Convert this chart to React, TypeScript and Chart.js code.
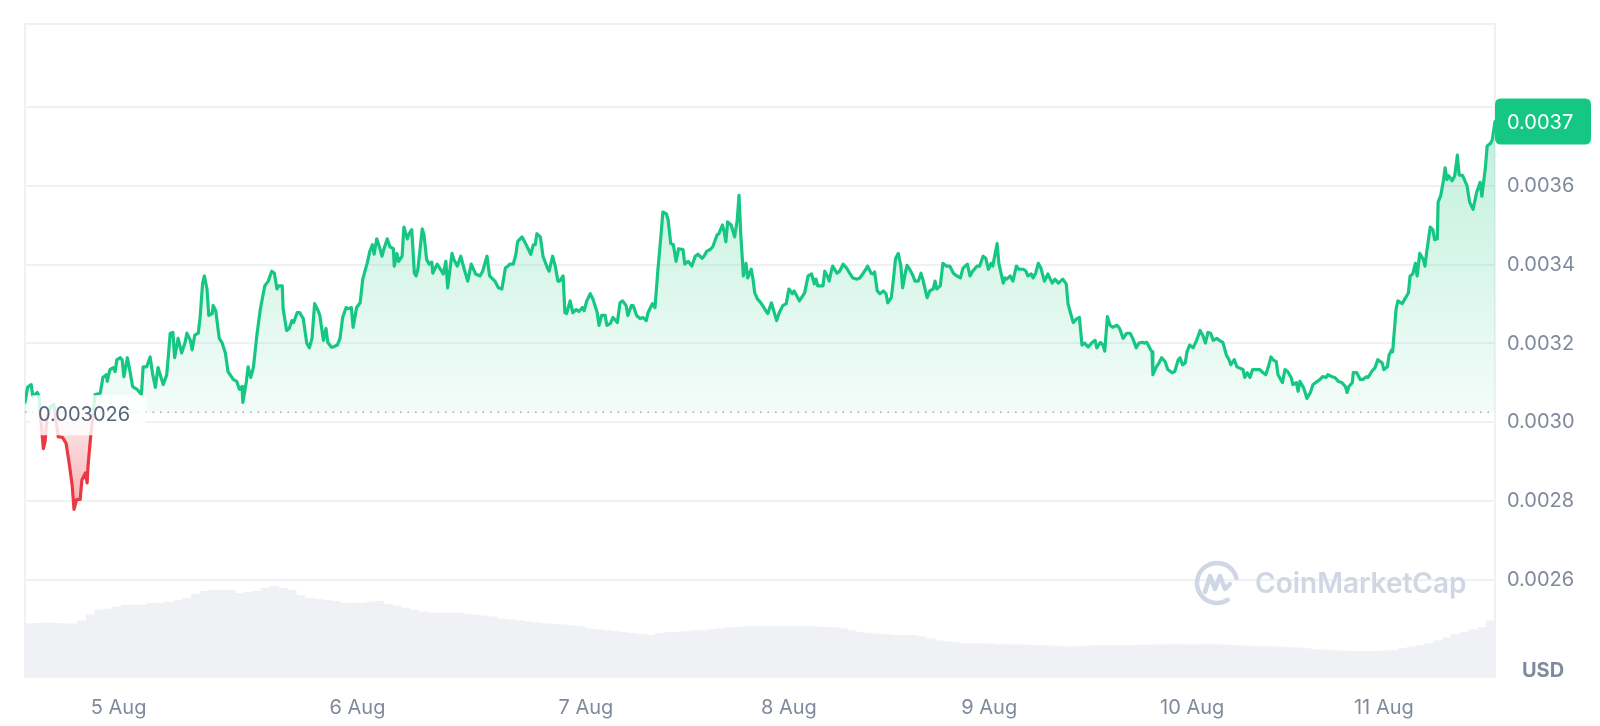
import { useEffect, useRef } from "react";
import { Chart, registerables } from "chart.js";

Chart.register(...registerables);

// ---- data ----
// position (hours since the first sample) of each day label on the time axis
const dayTickHours = [10.7, 38.0, 64.1, 87.3, 110.2, 133.4, 155.3];
const dayTickLabels = ["5 Aug", "6 Aug", "7 Aug", "8 Aug", "9 Aug", "10 Aug", "11 Aug"];
const yTickValues = [0.0026, 0.0028, 0.003, 0.0032, 0.0034, 0.0036, 0.0038];
const yTickLabels = ["0.0026", "0.0028", "0.0030", "0.0032", "0.0034", "0.0036", ""];
const BASE_PRICE = 0.003026;
const Y_MIN = 0.002353;
const Y_MAX = 0.004009;
const X_MAX_HOURS = 168;
const VOLUME_AXIS_MAX = 200;
const CURRENCY = "USD";
const WATERMARK = "CoinMarketCap";

// [hours since start, price in micro-USD]
const priceMicroUsd: [number, number][] = [
  [0, 3051], [0.3, 3089], [0.7, 3096], [0.9, 3066], [1.4, 3076], [1.6, 3066], [1.8, 3009], [2.1, 2934], [2.3, 2952], [2.5, 3009],
  [2.9, 3041], [3.3, 3046], [3.8, 2964], [4.3, 2962], [4.7, 2947], [5.1, 2889], [5.4, 2839], [5.6, 2780], [5.9, 2805], [6.3, 2805],
  [6.5, 2854], [6.9, 2872], [7.1, 2847], [7.2, 2889], [7.5, 2964], [7.8, 3021], [8.0, 3071], [8.6, 3074], [8.9, 3114], [9.3, 3121],
  [9.4, 3104], [9.7, 3134], [10.1, 3139], [10.3, 3129], [10.5, 3159], [10.9, 3164], [11.1, 3159], [11.3, 3116], [11.7, 3164], [12.0, 3129],
  [12.3, 3091], [12.8, 3084], [13.3, 3071], [13.5, 3141], [13.9, 3141], [14.3, 3166], [14.6, 3121], [14.9, 3089], [15.2, 3139], [15.8, 3096],
  [16.2, 3121], [16.6, 3226], [16.9, 3228], [17.1, 3164], [17.5, 3213], [17.9, 3176], [18.3, 3203], [18.5, 3226], [18.9, 3208], [19.1, 3184],
  [19.4, 3221], [19.8, 3226], [20.0, 3263], [20.3, 3353], [20.5, 3371], [20.8, 3338], [21.0, 3271], [21.4, 3276], [21.5, 3296], [21.8, 3283],
  [22.2, 3213], [22.5, 3203], [22.9, 3176], [23.2, 3129], [23.8, 3109], [24.2, 3104], [24.5, 3084], [24.8, 3091], [24.9, 3051], [25.3, 3104],
  [25.5, 3141], [25.8, 3114], [26.1, 3139], [26.5, 3221], [26.9, 3288], [27.4, 3346], [27.8, 3358], [28.2, 3383], [28.5, 3378], [28.8, 3338],
  [29.0, 3346], [29.4, 3346], [29.5, 3288], [29.9, 3233], [30.2, 3238], [30.5, 3258], [30.7, 3253], [31.1, 3278], [31.4, 3278], [31.8, 3263],
  [32.2, 3201], [32.5, 3189], [32.8, 3213], [33.1, 3301], [33.5, 3283], [33.7, 3271], [34.1, 3208], [34.4, 3238], [34.6, 3203], [35.0, 3191],
  [35.2, 3191], [35.7, 3196], [36.0, 3213], [36.3, 3266], [36.7, 3291], [36.9, 3288], [37.3, 3291], [37.5, 3241], [37.9, 3291], [38.3, 3303],
  [38.6, 3363], [39.1, 3403], [39.4, 3433], [39.7, 3450], [39.9, 3426], [40.2, 3465], [40.5, 3445], [40.8, 3421], [41.0, 3438], [41.4, 3465],
  [41.7, 3445], [42.1, 3440], [42.2, 3396], [42.5, 3428], [42.7, 3408], [43.1, 3421], [43.3, 3495], [43.7, 3465], [43.9, 3478], [44.2, 3488],
  [44.5, 3378], [44.7, 3371], [44.9, 3388], [45.4, 3490], [45.6, 3475], [45.9, 3413], [46.2, 3401], [46.5, 3406], [46.6, 3378], [47.1, 3401],
  [47.4, 3391], [47.8, 3376], [48.1, 3408], [48.3, 3341], [48.8, 3428], [49.0, 3413], [49.4, 3396], [49.8, 3421], [50.2, 3388], [50.6, 3358],
  [51.0, 3401], [51.2, 3391], [51.5, 3376], [52.0, 3371], [52.3, 3383], [52.8, 3421], [53.1, 3371], [53.7, 3358], [54.1, 3341], [54.5, 3338],
  [54.9, 3391], [55.2, 3396], [55.4, 3401], [55.8, 3401], [56.1, 3426], [56.3, 3458], [56.8, 3470], [57.1, 3458], [57.5, 3440], [57.8, 3426],
  [58.1, 3450], [58.3, 3450], [58.5, 3478], [58.9, 3470], [59.2, 3421], [59.7, 3391], [59.9, 3383], [60.3, 3421], [60.6, 3396], [60.9, 3358],
  [61.1, 3358], [61.5, 3371], [61.7, 3278], [61.9, 3276], [62.3, 3308], [62.6, 3278], [63.0, 3286], [63.3, 3281], [63.7, 3291], [63.9, 3283],
  [64.2, 3308], [64.6, 3326], [64.9, 3313], [65.4, 3278], [65.6, 3246], [65.9, 3271], [66.3, 3271], [66.5, 3246], [66.9, 3251], [67.2, 3266],
  [67.7, 3253], [68.0, 3303], [68.3, 3308], [68.7, 3296], [68.9, 3271], [69.3, 3296], [69.5, 3296], [69.9, 3271], [70.3, 3263], [70.6, 3266],
  [71.0, 3258], [71.2, 3278], [71.7, 3301], [72.0, 3291], [72.3, 3378], [72.7, 3478], [72.9, 3533], [73.3, 3528], [73.5, 3513], [73.8, 3453],
  [74.1, 3450], [74.4, 3408], [74.7, 3440], [75.2, 3438], [75.4, 3401], [75.8, 3408], [76.2, 3396], [76.6, 3421], [76.9, 3426], [77.4, 3416],
  [77.6, 3421], [77.9, 3433], [78.3, 3438], [78.6, 3445], [79.1, 3475], [79.3, 3478], [79.7, 3500], [79.9, 3483], [80.1, 3458], [80.3, 3508],
  [80.7, 3500], [81.1, 3470], [81.4, 3513], [81.6, 3575], [81.8, 3478], [82.1, 3371], [82.4, 3403], [82.6, 3366], [83.0, 3388], [83.2, 3363],
  [83.4, 3328], [83.7, 3313], [84.1, 3303], [84.3, 3296], [84.8, 3278], [84.9, 3276], [85.3, 3303], [85.5, 3288], [85.9, 3258], [86.2, 3278],
  [86.6, 3296], [87.0, 3301], [87.3, 3338], [87.7, 3326], [87.9, 3333], [88.2, 3321], [88.5, 3308], [88.9, 3321], [89.1, 3328], [89.5, 3371],
  [89.9, 3376], [90.2, 3351], [90.4, 3363], [90.6, 3346], [91.2, 3346], [91.4, 3383], [91.7, 3371], [91.9, 3358], [92.2, 3388], [92.3, 3396],
  [92.8, 3378], [93.1, 3383], [93.5, 3401], [93.9, 3391], [94.3, 3376], [94.6, 3366], [95.1, 3363], [95.4, 3366], [95.8, 3378], [96.1, 3388],
  [96.3, 3396], [96.7, 3378], [96.9, 3376], [97.1, 3381], [97.4, 3333], [97.7, 3326], [98.1, 3333], [98.4, 3326], [98.6, 3303], [99.0, 3316],
  [99.2, 3353], [99.5, 3416], [99.8, 3428], [100.1, 3396], [100.3, 3341], [100.6, 3378], [100.8, 3398], [101.1, 3388], [101.5, 3371], [101.7, 3358],
  [102.1, 3358], [102.4, 3378], [102.6, 3363], [103.1, 3316], [103.4, 3333], [103.8, 3338], [104.0, 3358], [104.2, 3338], [104.6, 3346], [104.9, 3403],
  [105.3, 3396], [105.7, 3396], [106.1, 3378], [106.5, 3371], [106.9, 3366], [107.2, 3391], [107.7, 3401], [108.0, 3371], [108.3, 3383], [108.8, 3396],
  [109.1, 3396], [109.5, 3421], [109.8, 3416], [110.1, 3388], [110.4, 3403], [110.6, 3396], [111.1, 3453], [111.3, 3403], [111.8, 3353], [112.0, 3366],
  [112.2, 3363], [112.6, 3371], [112.9, 3358], [113.3, 3396], [113.6, 3388], [114.1, 3388], [114.4, 3383], [114.6, 3371], [115.0, 3376], [115.2, 3366],
  [115.5, 3378], [115.8, 3403], [116.1, 3391], [116.5, 3358], [116.7, 3366], [116.9, 3376], [117.4, 3353], [117.7, 3363], [118.1, 3353], [118.6, 3363],
  [119.0, 3351], [119.2, 3301], [119.5, 3276], [119.8, 3253], [120.2, 3263], [120.5, 3266], [120.8, 3196], [121.1, 3201], [121.5, 3191], [121.9, 3201],
  [122.3, 3208], [122.5, 3189], [122.9, 3203], [123.2, 3196], [123.4, 3181], [123.7, 3268], [124.0, 3246], [124.3, 3241], [124.8, 3246], [125.1, 3238],
  [125.5, 3213], [125.9, 3226], [126.3, 3226], [126.6, 3213], [127.0, 3189], [127.3, 3201], [127.7, 3203], [127.9, 3201], [128.2, 3203], [128.6, 3186],
  [128.8, 3179], [128.9, 3121], [129.3, 3141], [129.6, 3151], [129.9, 3164], [130.3, 3154], [130.6, 3134], [131.1, 3126], [131.4, 3129], [131.8, 3159],
  [132.0, 3164], [132.3, 3146], [132.6, 3151], [132.8, 3179], [133.1, 3196], [133.5, 3189], [133.9, 3208], [134.3, 3233], [134.6, 3221], [134.9, 3201],
  [135.2, 3228], [135.5, 3226], [135.8, 3208], [136.2, 3213], [136.5, 3208], [136.9, 3203], [137.3, 3171], [137.6, 3159], [137.8, 3146], [138.2, 3159],
  [138.5, 3141], [138.7, 3139], [139.2, 3134], [139.4, 3114], [139.7, 3126], [140.0, 3114], [140.3, 3134], [140.8, 3134], [141.1, 3134], [141.5, 3126],
  [141.8, 3121], [142.1, 3141], [142.4, 3166], [142.6, 3159], [143.0, 3154], [143.2, 3121], [143.7, 3101], [144.0, 3134], [144.3, 3129], [144.7, 3114],
  [144.9, 3096], [145.3, 3101], [145.5, 3079], [145.7, 3104], [146.1, 3089], [146.3, 3076], [146.5, 3061], [146.9, 3076], [147.2, 3096], [147.7, 3104],
  [148.0, 3109], [148.3, 3116], [148.7, 3114], [148.9, 3121], [149.4, 3116], [149.7, 3114], [150.1, 3104], [150.5, 3101], [150.9, 3091], [151.1, 3076],
  [151.3, 3091], [151.7, 3101], [151.8, 3126], [152.2, 3126], [152.6, 3109], [152.9, 3109], [153.3, 3116], [153.5, 3114], [153.9, 3129], [154.3, 3139],
  [154.6, 3159], [155.1, 3151], [155.3, 3134], [155.7, 3141], [155.9, 3171], [156.2, 3184], [156.3, 3179], [156.7, 3288], [156.9, 3308], [157.4, 3301],
  [157.7, 3313], [158.1, 3328], [158.3, 3371], [158.6, 3376], [158.9, 3403], [159.1, 3371], [159.4, 3428], [159.8, 3413], [160.0, 3396], [160.2, 3433],
  [160.6, 3495], [160.9, 3488], [161.1, 3463], [161.4, 3465], [161.5, 3558], [161.8, 3575], [162.1, 3612], [162.3, 3645], [162.5, 3615], [162.7, 3625],
  [163.1, 3612], [163.4, 3625], [163.7, 3677], [163.9, 3627], [164.3, 3625], [164.8, 3600], [165.1, 3558], [165.5, 3540], [165.9, 3583], [166.3, 3608],
  [166.5, 3573], [166.9, 3645], [167.1, 3700], [167.5, 3707], [167.7, 3717], [168.0, 3762],
];

// hourly volume, million USD
const volumeHourly: number[] = [
  16.6, 16.7, 16.9, 16.7, 16.6, 16.6, 17.5, 19.3, 20.8, 21.1,
  21.7, 22.3, 22.3, 22.3, 22.9, 22.9, 23.2, 23.8, 24.4, 25.6,
  26.5, 26.8, 26.8, 26.8, 25.9, 26.2, 26.5, 27.4, 28.0, 27.4,
  26.8, 25.3, 24.4, 24.1, 23.8, 23.5, 22.9, 22.9, 22.9, 23.2,
  23.5, 22.6, 22.0, 21.4, 20.8, 20.2, 19.9, 19.9, 19.9, 19.9,
  19.6, 19.3, 19.0, 18.7, 18.1, 17.8, 17.5, 17.2, 16.9, 16.6,
  16.4, 16.3, 16.0, 15.7, 15.1, 14.8, 14.5, 14.2, 13.9, 13.6,
  13.3, 13.0, 13.6, 13.9, 14.0, 14.2, 14.5, 14.5, 14.8, 15.1,
  15.4, 15.5, 15.7, 15.7, 15.7, 15.7, 15.7, 15.7, 15.7, 15.7,
  15.7, 15.5, 15.4, 15.1, 14.5, 13.9, 13.6, 13.4, 13.3, 13.1,
  13.0, 13.0, 12.7, 12.0, 11.4, 11.1, 10.8, 10.5, 10.5, 10.4,
  10.4, 10.2, 10.2, 10.2, 10.1, 9.9, 9.9, 9.8, 9.6, 9.6,
  9.6, 9.8, 9.9, 9.9, 9.9, 9.9, 9.9, 10.1, 10.1, 10.2,
  10.2, 10.2, 10.2, 10.2, 10.2, 10.2, 10.2, 10.1, 9.9, 9.8,
  9.6, 9.6, 9.6, 9.5, 9.3, 9.2, 9.0, 8.7, 8.6, 8.4,
  8.3, 8.1, 8.1, 8.1, 8.1, 8.3, 8.4, 9.0, 9.6, 9.9,
  10.5, 11.4, 12.3, 13.3, 13.9, 14.8, 15.4, 17.5,
];

// ---- styles ----
const GREEN = "#16c784";
const RED = "#ea3943";
const GRID = "#eff2f5";
const TICK = "#808a9d";
const FONT = "Inter, 'Noto Sans', sans-serif";

const priceData = priceMicroUsd.map(([h, p]) => ({ x: h, y: p / 1e6 }));
const volumeData = volumeHourly.map((v, i) => ({ x: i + 0.5, y: v }));
const maxPrice = Math.max(...priceData.map((d) => d.y));
const minPrice = Math.min(...priceData.map((d) => d.y));
const lastPrice = priceData[priceData.length - 1].y;

const roundRect = (ctx: CanvasRenderingContext2D, x: number, y: number, w: number, h: number, r: number) => {
  ctx.beginPath();
  ctx.moveTo(x + r, y);
  ctx.lineTo(x + w - r, y);
  ctx.quadraticCurveTo(x + w, y, x + w, y + r);
  ctx.lineTo(x + w, y + h - r);
  ctx.quadraticCurveTo(x + w, y + h, x + w - r, y + h);
  ctx.lineTo(x + r, y + h);
  ctx.quadraticCurveTo(x, y + h, x, y + h - r);
  ctx.lineTo(x, y + r);
  ctx.quadraticCurveTo(x, y, x + r, y);
  ctx.closePath();
};

const decorPlugin = {
  id: "decor",
  beforeDatasetsDraw(chart: any) {
    const { ctx, chartArea: a } = chart;
    ctx.save();
    // frame
    ctx.strokeStyle = GRID;
    ctx.lineWidth = 2;
    ctx.beginPath();
    ctx.moveTo(a.left, a.bottom);
    ctx.lineTo(a.left, a.top);
    ctx.lineTo(a.right, a.top);
    ctx.lineTo(a.right, a.bottom);
    ctx.stroke();
    // watermark
    const wc = "#cfd6e4";
    const cx = a.right - 278;
    const cy = a.bottom - 95;
    ctx.strokeStyle = wc;
    ctx.lineWidth = 4.5;
    ctx.lineCap = "round";
    ctx.lineJoin = "round";
    ctx.beginPath();
    ctx.arc(cx, cy, 20, 0.32 * Math.PI, 1.92 * Math.PI);
    ctx.stroke();
    ctx.beginPath();
    ctx.moveTo(cx - 12, cy + 9);
    ctx.lineTo(cx - 7, cy - 7);
    ctx.lineTo(cx - 2, cy + 6);
    ctx.lineTo(cx + 3, cy - 7);
    ctx.lineTo(cx + 8, cy + 6);
    ctx.lineTo(cx + 13, cy + 1);
    ctx.stroke();
    ctx.fillStyle = wc;
    ctx.font = `600 28px ${FONT}`;
    ctx.textAlign = "left";
    ctx.textBaseline = "middle";
    ctx.fillText(WATERMARK, cx + 38, cy + 2);
    ctx.restore();
  },
  afterDatasetsDraw(chart: any) {
    const { ctx, chartArea: a, scales } = chart;
    const yb = scales.y.getPixelForValue(BASE_PRICE);
    ctx.save();
    // dotted baseline
    ctx.strokeStyle = "#a3abbd";
    ctx.lineWidth = 1.6;
    ctx.setLineDash([1.6, 5.9]);
    ctx.beginPath();
    ctx.moveTo(a.left, yb);
    ctx.lineTo(a.right, yb);
    ctx.stroke();
    ctx.setLineDash([]);
    // baseline label
    ctx.fillStyle = "rgba(255,255,255,0.82)";
    roundRect(ctx, a.left + 5, yb - 17, 116, 40, 4);
    ctx.fill();
    ctx.fillStyle = "#58667e";
    ctx.font = `20px ${FONT}`;
    ctx.textAlign = "left";
    ctx.textBaseline = "middle";
    ctx.fillText(BASE_PRICE.toFixed(6), a.left + 13, yb + 3);
    // current price badge
    const yl = scales.y.getPixelForValue(lastPrice);
    ctx.fillStyle = GREEN;
    roundRect(ctx, a.right, yl - 23, 96, 46, 6);
    ctx.fill();
    ctx.fillStyle = "#ffffff";
    ctx.fillText((Math.floor(lastPrice * 1e4) / 1e4).toFixed(4), a.right + 12, yl + 1);
    // currency
    ctx.fillStyle = TICK;
    ctx.font = `bold 20px ${FONT}`;
    ctx.textAlign = "center";
    ctx.fillText(CURRENCY, a.right + 48, a.bottom - 7);
    ctx.restore();
  },
};

export default function App() {
  const ref = useRef<HTMLCanvasElement | null>(null);
  useEffect(() => {
    document.body.style.margin = "0";
    if (!ref.current) return;
    const chart = new Chart(ref.current, {
      type: "line",
      data: {
        datasets: [
          {
            type: "line",
            data: priceData,
            yAxisID: "y",
            order: 1,
            borderWidth: 3.2,
            pointRadius: 0,
            pointHoverRadius: 0,
            tension: 0,
            borderJoinStyle: "round",
            borderCapStyle: "round",
            borderColor: (c: any) => {
              const chart = c.chart;
              const a = chart.chartArea;
              if (!a) return GREEN;
              const yb = chart.scales.y.getPixelForValue(BASE_PRICE);
              const f = Math.min(1, Math.max(0, (yb - a.top) / (a.bottom - a.top)));
              const g = chart.ctx.createLinearGradient(0, a.top, 0, a.bottom);
              g.addColorStop(0, GREEN);
              g.addColorStop(f, GREEN);
              g.addColorStop(f, RED);
              g.addColorStop(1, RED);
              return g;
            },
            fill: (c: any) => {
              const chart = c.chart;
              const a = chart.chartArea;
              if (!a) {
                return { target: { value: BASE_PRICE }, above: "rgba(22,199,132,0.1)", below: "rgba(234,57,67,0.15)" };
              }
              const y = chart.scales.y;
              const yb = y.getPixelForValue(BASE_PRICE);
              const yTop = y.getPixelForValue(maxPrice);
              const yBot = y.getPixelForValue(minPrice);
              const ga = chart.ctx.createLinearGradient(0, yTop, 0, yb);
              ga.addColorStop(0, "rgba(22,199,132,0.27)");
              ga.addColorStop(1, "rgba(22,199,132,0.05)");
              const gb = chart.ctx.createLinearGradient(0, yb, 0, yBot);
              gb.addColorStop(0, "rgba(234,57,67,0.1)");
              gb.addColorStop(1, "rgba(234,57,67,0.4)");
              return { target: { value: BASE_PRICE }, above: ga, below: gb };
            },
          } as any,
          {
            type: "bar",
            data: volumeData,
            yAxisID: "y1",
            order: 2,
            backgroundColor: "#eff1f5",
            borderWidth: 0,
            barPercentage: 1,
            categoryPercentage: 1,
          } as any,
        ],
      },
      options: {
        animation: false,
        responsive: false,
        devicePixelRatio: 1,
        layout: { padding: { left: 25, top: 14, right: 0, bottom: 0 } },
        plugins: { legend: { display: false }, tooltip: { enabled: false } },
        events: [],
        scales: {
          x: {
            type: "linear",
            min: 0,
            max: X_MAX_HOURS,
            offset: false,
            grid: { display: false, drawTicks: false },
            border: { display: false },
            afterBuildTicks: (s: any) => {
              s.ticks = dayTickHours.map((v) => ({ value: v }));
            },
            afterFit: (s: any) => {
              s.height = 48;
            },
            ticks: {
              autoSkip: false,
              maxRotation: 0,
              padding: 18,
              color: TICK,
              font: { family: FONT, size: 20 },
              callback: (_v: any, i: number) => dayTickLabels[i],
            },
          },
          y: {
            type: "linear",
            position: "right",
            min: Y_MIN,
            max: Y_MAX,
            grid: { color: GRID, lineWidth: 2, drawTicks: false },
            border: { display: false },
            afterBuildTicks: (s: any) => {
              s.ticks = yTickValues.map((v) => ({ value: v }));
            },
            afterFit: (s: any) => {
              s.width = 105;
            },
            ticks: {
              padding: 12,
              color: TICK,
              font: { family: FONT, size: 20 },
              callback: (_v: any, i: number) => yTickLabels[i],
            },
          },
          y1: {
            type: "linear",
            display: false,
            min: 0,
            max: VOLUME_AXIS_MAX,
          },
        },
      } as any,
      plugins: [decorPlugin],
    });
    return () => chart.destroy();
  }, []);
  return (
    <div style={{ width: 1600, height: 726, position: "relative", background: "#ffffff" }}>
      <canvas ref={ref} width={1600} height={726} style={{ width: 1600, height: 726, display: "block" }} />
    </div>
  );
}
